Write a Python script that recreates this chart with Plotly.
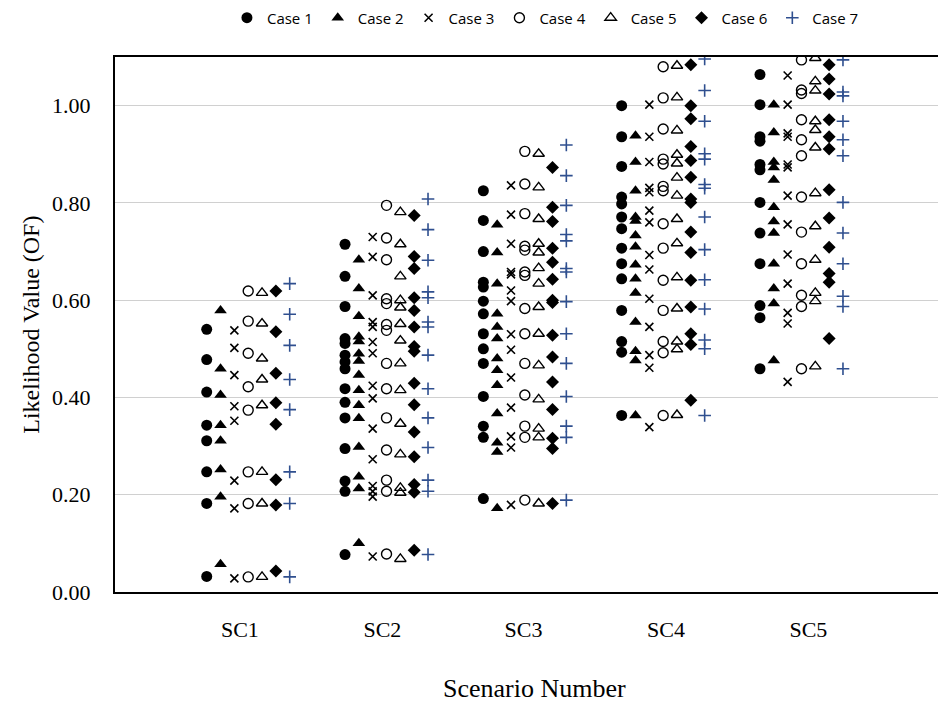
import plotly.graph_objects as go

scenarios = ["SC1", "SC2", "SC3", "SC4", "SC5"]
case_names = ["Case 1", "Case 2", "Case 3", "Case 4", "Case 5", "Case 6", "Case 7"]

# values per case, one list per scenario (SC1..SC5)
case1 = [
    [0.540, 0.478, 0.411, 0.343, 0.311, 0.247, 0.182, 0.032],
    [0.715, 0.649, 0.587, 0.521, 0.511, 0.487, 0.473, 0.459, 0.418, 0.390, 0.358, 0.295, 0.228, 0.207, 0.077],
    [0.825, 0.764, 0.700, 0.637, 0.627, 0.598, 0.572, 0.531, 0.500, 0.470, 0.402, 0.341, 0.318, 0.192],
    [1.000, 0.936, 0.875, 0.812, 0.798, 0.771, 0.747, 0.707, 0.675, 0.644, 0.579, 0.515, 0.493, 0.363],
    [1.064, 1.002, 0.936, 0.927, 0.879, 0.868, 0.801, 0.738, 0.675, 0.589, 0.564, 0.459],
]
case2 = [
    [0.579, 0.459, 0.405, 0.343, 0.311, 0.252, 0.196, 0.057],
    [0.683, 0.624, 0.567, 0.525, 0.515, 0.490, 0.475, 0.446, 0.415, 0.384, 0.357, 0.298, 0.237, 0.213, 0.100],
    [0.755, 0.698, 0.634, 0.572, 0.545, 0.521, 0.480, 0.456, 0.425, 0.367, 0.307, 0.288, 0.172],
    [0.938, 0.884, 0.825, 0.771, 0.763, 0.733, 0.710, 0.673, 0.644, 0.615, 0.555, 0.495, 0.476, 0.363],
    [1.002, 0.945, 0.884, 0.873, 0.847, 0.791, 0.762, 0.738, 0.675, 0.624, 0.593, 0.476],
]
case3 = [
    [0.538, 0.502, 0.446, 0.382, 0.352, 0.229, 0.172, 0.028],
    [0.730, 0.689, 0.610, 0.555, 0.545, 0.514, 0.491, 0.424, 0.398, 0.336, 0.273, 0.218, 0.207, 0.196, 0.073],
    [0.836, 0.776, 0.716, 0.658, 0.653, 0.620, 0.598, 0.530, 0.498, 0.441, 0.379, 0.320, 0.297, 0.179],
    [1.002, 0.936, 0.884, 0.831, 0.822, 0.784, 0.760, 0.693, 0.663, 0.603, 0.545, 0.487, 0.461, 0.339],
    [1.062, 1.002, 0.943, 0.936, 0.879, 0.873, 0.815, 0.756, 0.694, 0.634, 0.574, 0.552, 0.432],
]
case4 = [
    [0.619, 0.557, 0.491, 0.422, 0.374, 0.247, 0.182, 0.031],
    [0.795, 0.728, 0.683, 0.603, 0.593, 0.550, 0.538, 0.470, 0.418, 0.358, 0.292, 0.230, 0.207, 0.078],
    [0.906, 0.839, 0.778, 0.711, 0.703, 0.658, 0.651, 0.583, 0.531, 0.470, 0.405, 0.341, 0.318, 0.189],
    [1.080, 1.016, 0.952, 0.890, 0.880, 0.834, 0.825, 0.757, 0.707, 0.641, 0.579, 0.515, 0.492, 0.363],
    [1.094, 1.032, 1.025, 0.971, 0.930, 0.897, 0.812, 0.740, 0.675, 0.610, 0.587, 0.459],
]
case5 = [
    [0.615, 0.552, 0.480, 0.437, 0.384, 0.247, 0.182, 0.031],
    [0.781, 0.715, 0.649, 0.600, 0.585, 0.551, 0.517, 0.470, 0.415, 0.346, 0.283, 0.214, 0.204, 0.068],
    [0.901, 0.832, 0.767, 0.716, 0.698, 0.666, 0.634, 0.586, 0.531, 0.466, 0.396, 0.336, 0.318, 0.182],
    [1.082, 1.017, 0.949, 0.899, 0.881, 0.852, 0.815, 0.767, 0.717, 0.647, 0.583, 0.515, 0.499, 0.364],
    [1.098, 1.050, 1.031, 0.968, 0.950, 0.914, 0.820, 0.752, 0.683, 0.615, 0.598, 0.464],
]
case6 = [
    [0.619, 0.535, 0.450, 0.389, 0.345, 0.231, 0.179, 0.043],
    [0.774, 0.690, 0.665, 0.605, 0.579, 0.545, 0.505, 0.495, 0.429, 0.385, 0.329, 0.278, 0.221, 0.205, 0.086],
    [0.873, 0.791, 0.762, 0.707, 0.678, 0.643, 0.600, 0.595, 0.528, 0.483, 0.432, 0.375, 0.316, 0.295, 0.182],
    [1.084, 1.000, 0.973, 0.916, 0.887, 0.853, 0.808, 0.801, 0.740, 0.698, 0.641, 0.586, 0.531, 0.509, 0.394],
    [1.084, 1.055, 1.024, 0.971, 0.936, 0.911, 0.827, 0.769, 0.709, 0.655, 0.637, 0.521],
]
case7 = [
    [0.634, 0.571, 0.507, 0.437, 0.375, 0.247, 0.182, 0.031],
    [0.808, 0.745, 0.682, 0.617, 0.605, 0.555, 0.545, 0.487, 0.418, 0.358, 0.297, 0.230, 0.207, 0.077],
    [0.919, 0.856, 0.795, 0.735, 0.722, 0.665, 0.658, 0.597, 0.531, 0.470, 0.402, 0.341, 0.318, 0.189],
    [1.096, 1.031, 0.968, 0.901, 0.890, 0.838, 0.830, 0.771, 0.704, 0.642, 0.582, 0.518, 0.500, 0.363],
    [1.094, 1.028, 1.020, 0.968, 0.930, 0.897, 0.801, 0.738, 0.675, 0.608, 0.587, 0.459],
]
y_ticks = [0.0, 0.2, 0.4, 0.6, 0.8, 1.0]

all_cases = [case1, case2, case3, case4, case5, case6, case7]

styles = [
    dict(symbol="circle", size=11, color="black", line=dict(width=0)),
    dict(symbol="triangle-up", size=11, color="black", line=dict(width=0)),
    dict(symbol="x-thin-open", size=8, color="black", line=dict(width=1.6, color="black")),
    dict(symbol="circle-open", size=10, color="black", line=dict(width=1.4, color="black")),
    dict(symbol="triangle-up-open", size=10, color="black", line=dict(width=1.4, color="black")),
    dict(symbol="diamond", size=10, color="black", line=dict(width=0)),
    dict(symbol="cross-thin-open", size=9, color="#2F4F8F", line=dict(width=1.6, color="#2F4F8F")),
]

fig = go.Figure()
for ci, (name, data) in enumerate(zip(case_names, all_cases)):
    xs, ys = [], []
    for si, vals in enumerate(data):
        for v in vals:
            xs.append(si + 1 + (ci - 3) * 0.1)
            ys.append(v)
    fig.add_trace(go.Scatter(x=xs, y=ys, mode="markers", name=name,
                             marker=styles[ci], cliponaxis=True))

label_pos = [0.94, 1.97, 2.99, 4.02, 5.05]

fig.update_layout(
    width=930, height=694,
    margin=dict(l=107, r=0, t=49, b=110, autoexpand=False),
    paper_bgcolor="white", plot_bgcolor="white",
    font=dict(family="Liberation Serif", color="black"),
    legend=dict(orientation="h", x=0.523, y=1.073, xanchor="center", yanchor="middle",
                font=dict(family="Open Sans", size=15, color="black"),
                itemwidth=30, tracegroupgap=0, bgcolor="rgba(0,0,0,0)"),
    showlegend=True,
)
fig.update_xaxes(range=[0.037, 5.987], tickmode="array", tickvals=label_pos, ticktext=scenarios,
                 showgrid=False, zeroline=False, showline=True, mirror=True,
                 linecolor="black", linewidth=2, ticks="", ticklabelstandoff=17,
                 tickfont=dict(family="Liberation Serif", size=22, color="black"))
fig.update_yaxes(range=[0, 1.1], tickmode="array", tickvals=y_ticks,
                 ticktext=[f"{v:.2f}" for v in y_ticks],
                 showgrid=True, gridcolor="#D0D0D0", gridwidth=1, zeroline=False,
                 showline=True, mirror=True, linecolor="black", linewidth=2,
                 ticks="", ticklabelstandoff=18,
                 tickfont=dict(family="Liberation Serif", size=22, color="black"))

fig.add_annotation(text="Scenario Number", xref="paper", yref="paper", x=0.510, y=-0.181,
                   xanchor="center", yanchor="middle", showarrow=False,
                   font=dict(family="Liberation Serif", size=26, color="black"))
fig.add_annotation(text="Likelihood Value (OF)", xref="paper", yref="paper", x=-0.103, y=0.5,
                   xanchor="center", yanchor="middle", textangle=-90, showarrow=False,
                   font=dict(family="Liberation Serif", size=24, color="black"))

fig.write_html("out.html")
